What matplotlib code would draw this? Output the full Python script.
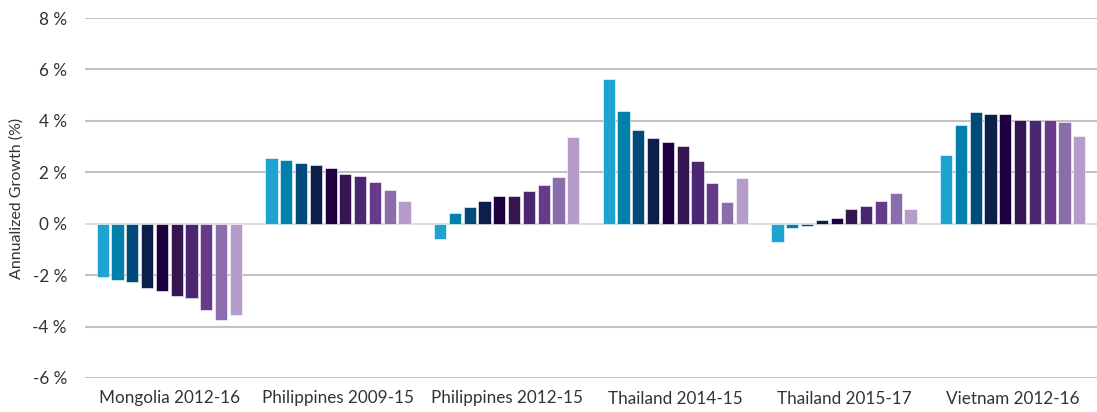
import numpy as np
import matplotlib
matplotlib.use("Agg")
import matplotlib.pyplot as plt

plt.rcParams['font.family'] = ['Lato', 'DejaVu Sans']

# groups and values (annualized growth, %), 10 bars per group
groups = ["Mongolia 2012-16", "Philippines 2009-15", "Philippines 2012-15",
          "Thailand 2014-15", "Thailand 2015-17", "Vietnam 2012-16"]

mongolia = [-2.07, -2.17, -2.26, -2.49, -2.60, -2.81, -2.90, -3.34, -3.76, -3.55]
phil_0915 = [2.57, 2.47, 2.36, 2.27, 2.16, 1.95, 1.84, 1.63, 1.31, 0.88]
phil_1215 = [-0.59, 0.43, 0.66, 0.87, 1.08, 1.08, 1.29, 1.50, 1.82, 3.39]
thai_1415 = [5.62, 4.39, 3.66, 3.35, 3.16, 3.04, 2.43, 1.58, 0.86, 1.79]
thai_1517 = [-0.71, -0.17, -0.07, 0.13, 0.24, 0.56, 0.67, 0.88, 1.20, 0.56]
vietnam = [2.66, 3.84, 4.36, 4.26, 4.26, 4.04, 4.04, 4.04, 3.95, 3.40]

colors = ["#1fa3d1", "#0080aa", "#004b7a", "#0b1f4a", "#1e0040",
          "#351650", "#4a2770", "#673a8a", "#8c6dab", "#b59ccb"]

yticks = [-6, -4, -2, 0, 2, 4, 6, 8]

data = np.array([mongolia, phil_0915, phil_1215, thai_1415, thai_1517, vietnam])

fig = plt.figure(figsize=(10.97, 4.12), dpi=100)
ax = fig.add_axes([85 / 1097, 34 / 412, 1012 / 1097, 360 / 412])

n = data.shape[1]
slot = 0.0877
barw = 0.072
x = np.arange(len(groups))
for i in range(n):
    pos = x + slot * (i - (n - 1) / 2)
    ax.bar(pos, data[:, i], width=barw, color=colors[i],
           edgecolor="white", linewidth=0.4, zorder=3)

for t in yticks:
    ax.axhline(t, color="#dddddd" if t == 0 else "#c2c2c2", lw=1.5, zorder=1)

ax.set_xlim(-0.5, len(groups) - 0.5)
ax.set_ylim(-6, 8)
ax.set_yticks(yticks)
ax.set_yticklabels([f"{t} %" for t in yticks])
ax.set_xticks(x)
ax.set_xticklabels(groups)
ax.tick_params(axis="both", length=0, labelsize=12.3, colors="#333333")
ax.tick_params(axis="y", pad=13)
ax.tick_params(axis="x", pad=9)
for s in ax.spines.values():
    s.set_visible(False)
ax.set_ylabel("Annualized Growth (%)", fontsize=11.5, color="#333333", labelpad=6)

fig.savefig("out.png", dpi=100)
